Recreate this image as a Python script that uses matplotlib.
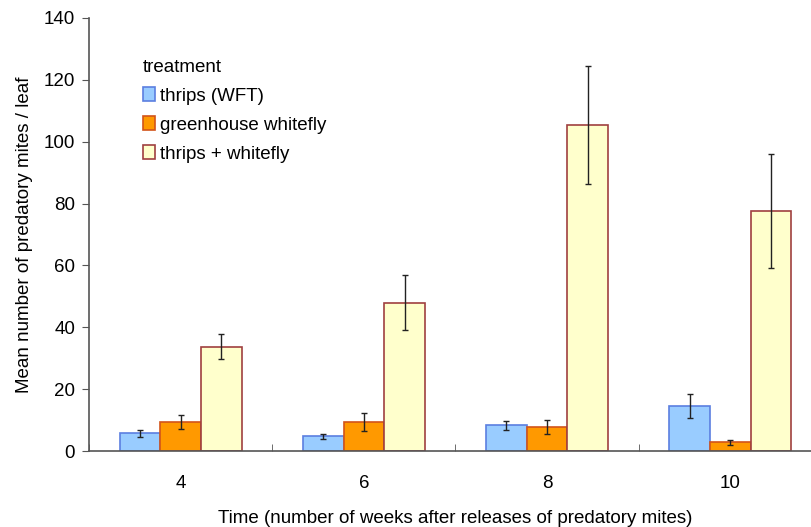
import numpy as np
import matplotlib
matplotlib.use("Agg")
import matplotlib.pyplot as plt

plt.rcParams['font.family'] = ['Liberation Sans', 'DejaVu Sans']

# data
weeks = ['4', '6', '8', '10']
series = ['thrips (WFT)', 'greenhouse whitefly', 'thrips + whitefly']
thrips = [5.7, 4.7, 8.3, 14.5]
thrips_err = [1.2, 0.7, 1.5, 3.9]
whitefly = [9.4, 9.4, 7.7, 2.8]
whitefly_err = [2.2, 2.9, 2.2, 0.9]
both = [33.7, 48.0, 105.4, 77.5]
both_err = [4.0, 9.0, 19.0, 18.4]

values = [thrips, whitefly, both]
errors = [thrips_err, whitefly_err, both_err]
faces = ['#99CCFF', '#FF9900', '#FFFFCC']
edges = ['#5B7FE0', '#D2541A', '#A04040']

fs = 13.5

fig = plt.figure(figsize=(8.12, 5.27), dpi=100)
ax = fig.add_axes([89 / 812, 76 / 527, 733 / 812, 433 / 527])

x = np.arange(len(weeks))
w = 0.222
for i in range(3):
    ax.bar(x + (i - 1) * w, values[i], w, color=faces[i], edgecolor=edges[i],
           linewidth=1.2, label=series[i], zorder=2)
    ax.errorbar(x + (i - 1) * w, values[i], yerr=errors[i], fmt='none',
                ecolor='#222222', elinewidth=1, capsize=2.5, capthick=1, zorder=3)

ax.set_xlim(-0.5, 3.5)
ax.set_ylim(0, 140)
ax.set_yticks(range(0, 141, 20))
ax.set_xticks(x)
ax.set_xticklabels(weeks)
ax.set_xticks(np.arange(-0.5, 3.6, 1), minor=True)
ax.tick_params(axis='x', which='major', length=0, pad=17, labelsize=fs)
ax.tick_params(axis='x', which='minor', length=5, direction='in', color='#555555')
ax.tick_params(axis='y', length=5, direction='out', color='#555555', labelsize=fs, pad=5)

for s in ['top', 'right']:
    ax.spines[s].set_visible(False)
for s in ['left', 'bottom']:
    ax.spines[s].set_color('#555555')
    ax.spines[s].set_linewidth(1.2)

ax.set_xlabel('Time (number of weeks after releases of predatory mites)', fontsize=fs, labelpad=13)
ax.set_ylabel('Mean number of predatory mites / leaf', fontsize=fs, labelpad=8)

leg = ax.legend(title='treatment', loc='upper left', bbox_to_anchor=(0.05, 0.945),
                frameon=False, fontsize=fs, title_fontsize=fs,
                handlelength=0.65, handleheight=0.75, handletextpad=0.3,
                labelspacing=0.62, alignment='left')

fig.savefig('out.png', dpi=100)
